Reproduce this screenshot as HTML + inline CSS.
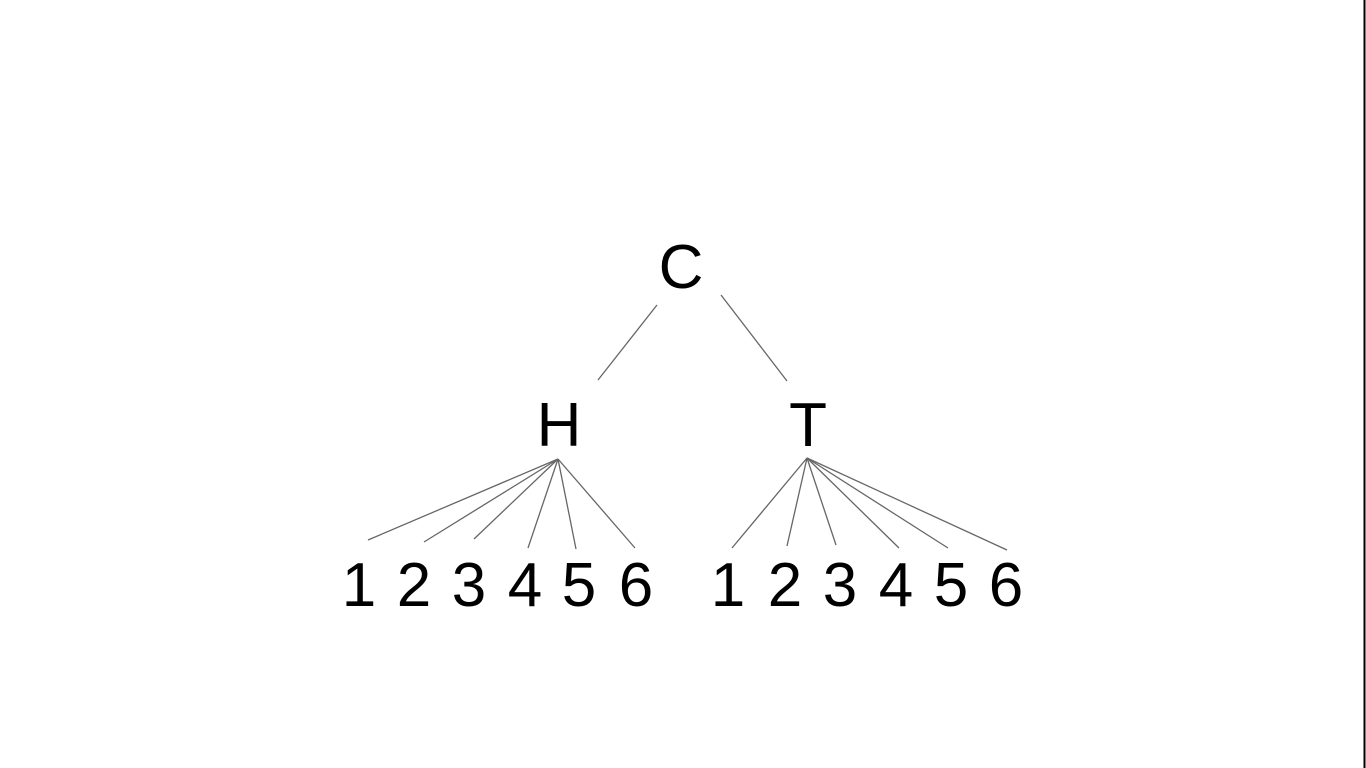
<!DOCTYPE html>
<html><head><style>html,body{margin:0;padding:0;background:#fff;}svg{display:block}</style></head>
<body>
<svg width="1366" height="768" xmlns="http://www.w3.org/2000/svg">
<rect width="1366" height="768" fill="#fff"/>
<line x1="1364.5" y1="0" x2="1364.5" y2="768" stroke="#000" stroke-width="2"/>
<g font-family="Liberation Sans, sans-serif" font-size="62" fill="#000" text-anchor="middle">
<text x="681" y="288">C</text>
<text x="559" y="446">H</text>
<text x="808" y="446">T</text>
<text x="359" y="606">1</text><text x="414" y="606">2</text><text x="469" y="606">3</text><text x="525" y="606">4</text><text x="579" y="606">5</text><text x="636" y="606">6</text>
<text x="728" y="606">1</text><text x="785" y="606">2</text><text x="840" y="606">3</text><text x="896" y="606">4</text><text x="951" y="606">5</text><text x="1006" y="606">6</text>
</g>
<g stroke="#666" stroke-width="1.3" fill="none">
<line x1="657" y1="305" x2="598" y2="380"/>
<line x1="721" y1="295" x2="787" y2="381"/>
<line x1="558" y1="459" x2="368" y2="540"/>
<line x1="558" y1="459" x2="424" y2="542"/>
<line x1="558" y1="459" x2="474" y2="539"/>
<line x1="558" y1="459" x2="528" y2="548"/>
<line x1="558" y1="459" x2="576" y2="549"/>
<line x1="558" y1="459" x2="635" y2="548"/>
<line x1="807" y1="458" x2="732" y2="548"/>
<line x1="807" y1="458" x2="787" y2="546"/>
<line x1="807" y1="458" x2="836" y2="545"/>
<line x1="807" y1="458" x2="899" y2="548"/>
<line x1="807" y1="458" x2="948" y2="548"/>
<line x1="807" y1="458" x2="1007" y2="550"/>
</g>
</svg>
</body></html>
